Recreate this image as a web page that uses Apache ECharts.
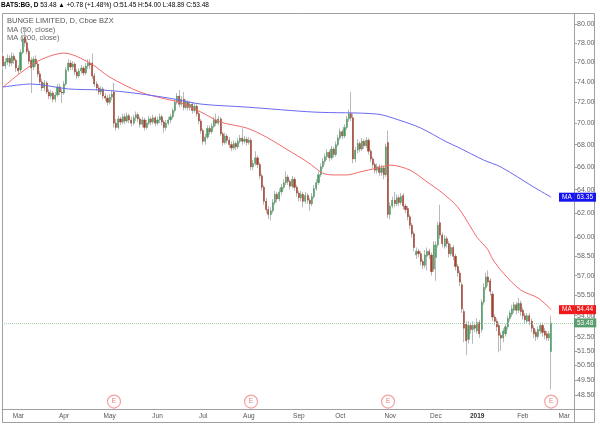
<!DOCTYPE html>
<html>
<head>
<meta charset="utf-8">
<script src="https://cdn.jsdelivr.net/npm/echarts@6/dist/echarts.min.js"></script>
<style>
html, body { margin: 0; padding: 0; background: #fff; }
#chart { width: 600px; height: 425px; }
</style>
</head>
<body>
<div id="chart"></div>
<script>
// trading calendar (weekdays minus NYSE holidays)
const firstDay = '2018-02-20';
const lastDay = '2019-03-07';
const holidays = ['2018-03-30', '2018-05-28', '2018-07-04', '2018-09-03', '2018-11-22',
  '2018-12-05', '2018-12-25', '2019-01-01', '2019-01-21', '2019-02-18'];

// daily candles, [open, close, low, high]
const feb18 = [[76.6,75.6,75.2,77.0],[75.6,76.0,75.3,76.4],[76.0,76.4,75.7,76.8],[76.4,75.9,75.5,76.7],
  [75.9,76.6,75.6,77.0],[76.6,76.2,75.8,76.9],[76.2,75.4,75.0,76.4]];
const mar18 = [[75.4,75.1,74.8,75.7],[75.2,77.0,75.0,77.3],[77.0,78.4,76.8,78.8],[78.6,78.0,77.6,79.6],
  [78.0,77.1,76.8,78.4],[77.1,76.1,75.8,77.4],[76.2,75.4,72.9,76.5],[75.5,76.3,75.2,76.6],
  [76.3,75.8,75.5,76.7],[75.8,74.8,74.5,76.0],[74.8,74.0,73.7,75.1],[74.0,73.4,73.1,74.3],
  [73.4,73.9,73.1,74.2],[73.9,73.0,72.8,74.1],[73.0,72.6,72.3,73.3],[72.6,72.9,72.3,73.2],
  [72.9,72.3,72.0,73.1],[72.3,72.7,72.0,73.0],[72.7,73.5,72.5,73.8],[73.5,73.0,72.7,73.8],
  [73.0,72.9,71.9,73.3]];
const apr18 = [[72.9,73.8,72.7,74.1],[73.8,75.2,73.6,75.5],[75.2,75.9,75.0,76.3],[75.9,75.5,75.2,76.2],
  [75.5,75.8,75.2,76.1],[75.8,75.0,74.7,76.0],[75.0,74.6,74.3,75.3],[74.6,75.1,74.4,75.4],
  [75.1,75.4,74.8,75.7],[75.4,74.9,74.6,75.6],[74.9,75.6,74.7,75.9],[75.6,75.9,75.3,76.3],
  [75.9,75.7,75.3,76.3],[75.9,74.6,74.3,76.9],[74.6,73.8,73.5,74.9],[73.8,73.4,73.1,74.1],
  [73.4,73.0,72.7,73.7],[73.0,73.3,72.7,73.6],[73.3,72.6,72.3,73.5],[72.6,72.4,72.1,72.9],
  [72.4,72.0,71.7,72.7]];
const may18 = [[72.0,72.5,71.8,72.8],[72.5,72.8,72.2,73.2],[73.0,70.0,69.6,73.9],[70.0,69.6,69.3,70.4],
  [69.6,70.4,69.4,70.7],[70.4,70.1,69.8,70.6],[70.1,70.6,69.9,70.9],[70.6,70.2,69.9,70.9],
  [70.2,70.7,70.0,71.0],[70.7,70.3,70.0,70.9],[70.3,70.0,69.7,70.6],[70.0,70.5,69.8,70.8],
  [70.5,70.8,70.2,71.1],[70.8,70.4,70.1,71.0],[70.4,69.9,69.6,70.6],[69.9,70.3,69.6,70.6],
  [70.3,69.6,69.3,70.5],[69.6,70.0,69.4,70.3],[70.0,70.4,69.8,70.7],[70.4,70.1,69.8,70.6],
  [70.1,70.5,69.9,70.8],[70.5,70.0,69.7,70.7]];
const jun18 = [[70.0,70.3,69.8,70.6],[70.3,70.6,70.0,70.9],[70.6,70.1,69.8,70.8],[70.1,69.6,69.1,70.3],
  [69.6,70.0,69.3,70.3],[70.0,70.3,69.8,70.6],[70.3,70.6,70.0,70.9],[70.6,71.2,70.4,71.4],
  [71.2,72.0,71.0,72.3],[72.0,72.6,71.8,72.9],[72.6,71.8,71.5,73.2],[71.8,72.3,71.6,72.6],
  [72.3,71.5,71.2,73.0],[71.5,72.0,71.3,72.3],[72.0,71.5,71.2,72.2],[71.5,71.8,71.2,72.1],
  [71.8,71.2,70.9,72.0],[71.2,71.6,71.0,71.9],[71.6,70.9,70.6,71.8],[70.9,70.2,69.9,71.1],
  [70.2,69.3,69.0,70.4]];
const jul18 = [[69.3,68.3,68.0,69.5],[68.3,68.7,68.0,69.0],[68.7,69.5,68.5,69.8],[69.5,69.2,68.9,69.8],
  [69.2,69.7,69.0,70.0],[69.7,70.3,69.5,70.6],[70.3,70.0,69.7,70.9],[70.0,70.4,69.8,70.7],
  [70.4,69.0,68.8,70.6],[69.0,68.2,67.9,69.2],[68.2,68.8,68.0,69.1],[68.8,68.4,68.1,69.0],
  [68.4,68.0,67.7,68.7],[68.0,67.7,67.4,68.3],[67.7,68.1,67.5,68.4],[68.1,67.8,67.5,68.3],
  [67.8,68.3,67.6,68.6],[68.3,68.6,68.1,68.9],[68.6,68.3,68.0,69.5],[68.3,68.5,68.1,68.8],
  [68.5,68.2,67.9,68.7]];
const aug18 = [[68.2,68.4,68.0,68.7],[68.4,66.0,65.7,68.6],[66.0,66.3,65.7,66.6],[66.3,66.8,66.1,67.4],
  [66.8,66.2,65.9,67.0],[66.2,65.2,64.9,66.4],[65.2,64.2,63.9,65.4],[64.2,63.0,62.7,64.4],
  [63.0,62.3,62.0,63.3],[62.3,61.9,61.5,62.6],[61.9,62.2,61.4,62.5],[62.2,62.9,62.0,63.2],
  [62.9,63.6,62.7,63.9],[63.6,63.2,62.9,63.8],[63.2,63.8,63.0,64.1],[63.8,64.2,63.5,64.5],
  [64.2,64.6,64.0,64.9],[64.6,65.1,64.4,65.6],[65.1,64.7,64.4,65.3],[64.7,64.3,64.0,64.9],
  [64.3,64.9,64.1,65.2],[64.9,64.2,63.9,65.1],[64.2,63.7,63.4,64.4]];
const sep18 = [[63.7,63.3,63.0,63.9],[63.3,63.6,63.0,63.9],[63.6,63.0,62.5,63.8],[63.0,63.5,62.8,63.8],
  [63.5,63.1,62.8,63.7],[63.1,62.8,62.2,63.3],[62.8,63.4,62.6,63.7],[63.4,64.1,63.2,64.4],
  [64.1,64.6,63.9,64.9],[64.6,65.3,64.4,65.6],[65.3,66.0,65.1,66.3],[66.0,66.5,65.8,66.8],
  [66.5,66.9,66.2,67.2],[66.9,67.3,66.6,67.6],[67.3,66.8,66.5,67.5],[66.8,67.6,66.6,67.9],
  [67.6,67.1,66.8,67.8],[67.1,68.0,66.9,68.3],[68.0,68.6,67.8,68.9]];
const oct18 = [[68.6,69.2,68.4,69.5],[69.2,68.8,68.5,69.4],[68.8,69.6,68.6,69.9],[69.6,70.4,69.4,70.7],
  [70.4,70.9,70.1,71.3],[70.9,70.5,70.2,73.0],[70.5,66.7,66.3,70.9],[66.7,67.5,66.4,67.8],
  [67.5,68.1,67.2,68.5],[68.1,67.6,67.3,68.3],[67.6,68.3,67.4,68.6],[68.3,67.9,67.6,68.5],
  [67.9,68.4,67.7,68.7],[68.4,67.4,67.1,68.6],[67.4,66.7,66.4,67.6],[66.7,66.2,65.9,66.9],
  [66.2,65.7,65.4,66.4],[65.7,66.0,65.4,66.3],[66.0,65.5,65.2,66.2],[65.5,65.9,65.2,66.2],
  [65.9,65.3,64.9,66.1],[65.3,67.8,65.1,68.1],[68.2,61.9,61.6,69.3]];
const nov18 = [[61.9,62.6,61.5,62.9],[62.6,63.1,62.4,63.4],[63.1,62.8,62.5,63.8],[62.8,63.3,62.6,63.6],
  [63.3,62.9,62.6,63.5],[62.9,63.4,62.7,63.7],[63.5,62.6,62.3,63.7],[62.6,62.3,62.0,62.8],
  [62.4,61.7,61.4,62.6],[61.7,61.0,60.7,61.9],[61.0,60.3,60.0,61.2],[60.3,59.2,58.9,60.5],
  [58.6,58.9,58.3,59.2],[58.9,58.7,58.4,59.1],[58.7,58.1,57.8,58.9],[58.1,57.8,57.5,58.3],
  [57.8,58.6,57.6,59.0],[58.5,58.9,57.4,59.2],[58.9,58.6,58.3,59.1],[58.6,57.3,57.0,58.8],
  [57.5,59.4,57.3,59.7]];
const dec18 = [[58.4,59.4,56.6,59.7],[59.4,61.0,59.2,61.3],[61.2,60.2,59.9,62.7],[60.2,59.5,59.2,60.4],
  [59.3,59.9,59.1,60.2],[59.9,59.5,59.2,60.1],[59.5,58.7,58.4,59.7],[58.7,59.2,58.5,59.5],
  [59.2,58.5,58.2,59.4],[58.5,57.7,57.4,58.7],[57.7,57.2,56.9,57.9],[57.2,56.5,56.2,57.4],
  [56.3,54.5,54.2,56.5],[54.3,53.1,52.1,54.5],[53.4,52.2,51.2,53.6],[52.3,53.3,52.0,53.6],
  [53.3,53.0,52.7,53.5],[53.0,53.3,52.0,53.6],[53.3,53.1,52.8,53.5]];
const jan19 = [[52.9,53.5,52.7,53.8],[53.5,52.7,52.4,53.7],[53.0,55.0,52.8,55.2],[55.0,56.1,54.8,56.4],
  [56.1,56.9,55.9,57.2],[56.9,56.5,56.2,57.4],[56.6,55.8,55.5,56.8],[55.6,53.9,53.6,55.8],
  [53.9,53.6,53.3,54.1],[53.6,53.2,52.9,53.8],[53.3,52.6,51.4,53.5],[52.6,52.4,51.5,52.8],
  [52.4,52.9,52.1,53.1],[52.7,53.2,52.5,53.4],[53.2,53.8,53.0,54.0],[53.8,54.2,53.6,54.4],
  [54.1,54.5,53.9,54.8],[54.4,54.8,54.2,55.0],[54.8,54.4,54.1,55.0],[54.4,54.9,54.2,55.3],
  [54.9,54.3,54.0,55.1]];
const feb19 = [[54.4,54.0,53.7,54.6],[54.0,53.7,53.4,54.2],[53.6,54.0,53.4,54.2],[54.0,53.6,53.3,54.2],
  [53.6,53.1,52.8,53.8],[53.1,52.7,52.4,53.3],[52.8,52.5,52.2,53.0],[52.5,53.0,52.3,53.2],
  [52.9,53.3,52.7,53.5],[53.3,52.8,52.5,53.5],[52.9,52.6,52.3,53.1],[52.7,52.4,52.2,52.9],
  [52.4,52.7,52.2,52.9],[51.45,53.48,48.89,54.00]];

// moving averages, [day index, value]
const ma50Pts = [[0,73.49],[8,74.9],[17,76.21],[28,76.93],[40,75.9],[49,74.48],[63,72.99],[75,72.3],
  [81,72.0],[91,71.05],[100,70.1],[112,69.54],[121,68.7],[131,67.5],[140,66.42],[147,65.44],
  [152,65.28],[158,65.28],[164,65.54],[172,65.89],[178,66.15],[187,65.71],[195,64.66],[202,63.71],
  [209,62.52],[215,60.85],[218,60.0],[223,59.0],[225,58.3],[230,57.19],[238,55.9],[246,55.3],[252,54.44]];
const ma200Pts = [[0,73.49],[13,73.79],[30,73.3],[46,73.19],[60,72.9],[76,72.41],[91,71.82],
  [112,71.53],[143,71.05],[172,70.86],[182,70.29],[192,69.54],[204,68.24],[209,67.78],[221,66.6],
  [229,65.97],[244,64.22],[252,63.35]];

const earnDates = ['2018-05-03', '2018-08-02', '2018-10-31', '2019-02-21'];
const yTicks = [48.5, 49.5, 50.5, 51.5, 52.5, 54, 55.5, 57, 58.5, 60, 62, 64, 66, 68, 70, 72, 74, 76, 78, 80];
const monthNames = ['Jan', 'Feb', 'Mar', 'Apr', 'May', 'Jun', 'Jul', 'Aug', 'Sep', 'Oct', 'Nov', 'Dec'];
const lastPrice = 53.48;

const days = [];
for (let t = Date.parse(firstDay); t <= Date.parse(lastDay); t += 86400000) {
  const d = new Date(t);
  const s = d.toISOString().slice(0, 10);
  if (d.getUTCDay() !== 0 && d.getUTCDay() !== 6 && holidays.indexOf(s) < 0) days.push(s);
}
const candles = [].concat(feb18, mar18, apr18, may18, jun18, jul18, aug18, sep18, oct18, nov18, dec18, jan19, feb19);
const bodies = candles.map(c => [c[0], c[1], Math.min(c[0], c[1]), Math.max(c[0], c[1])]);
const isMonthStart = i => i > 0 && days[i].slice(0, 7) !== days[i - 1].slice(0, 7);
const ma50Last = ma50Pts[ma50Pts.length - 1][1];
const ma200Last = ma200Pts[ma200Pts.length - 1][1];

const font = 'Liberation Sans';
const axisGray = '#a0a0a0';

function maTag(color, value) {
  return {
    show: true, position: 'end', distance: -15,
    formatter: '{t|MA}{v|' + value.toFixed(2) + '}',
    rich: {
      t: { backgroundColor: color, color: '#fff', fontSize: 6.5, fontFamily: font, padding: [1, 3, 1, 3] },
      v: { backgroundColor: color, color: '#fff', fontSize: 6.5, fontFamily: font, padding: [1, 3, 1, 2] }
    }
  };
}

const chart = echarts.init(document.getElementById('chart'));
chart.setOption({
  animation: false,
  backgroundColor: '#fff',
  textStyle: { fontFamily: font },
  grid: { left: 2, right: 26, top: 14, bottom: 16 },
  xAxis: {
    type: 'category',
    data: days,
    boundaryGap: true,
    axisLine: { lineStyle: { color: axisGray } },
    axisTick: { interval: isMonthStart, alignWithLabel: true, length: 3, lineStyle: { color: axisGray } },
    axisLabel: {
      interval: isMonthStart,
      margin: 4,
      fontSize: 6.5,
      color: '#555',
      formatter: function (v) {
        const m = +v.slice(5, 7);
        return m === 1 ? '{y|' + v.slice(0, 4) + '}' : monthNames[m - 1];
      },
      rich: { y: { fontSize: 6.5, fontWeight: 'bold', color: '#333' } }
    },
    splitLine: { show: false }
  },
  yAxis: {
    type: 'log',
    position: 'right',
    min: 47.62,
    max: 81.09,
    axisLine: { show: true, lineStyle: { color: axisGray } },
    axisTick: { show: true, length: 3, customValues: yTicks, lineStyle: { color: axisGray } },
    axisLabel: {
      customValues: yTicks,
      margin: 3,
      fontSize: 7,
      color: '#666',
      formatter: v => (+v).toFixed(2)
    },
    splitLine: { show: false }
  },
  series: [
    {
      // wicks
      type: 'candlestick',
      data: candles,
      barWidth: 1,
      itemStyle: { color: 'transparent', color0: 'transparent', borderColor: '#b9b9b9', borderColor0: '#b9b9b9', borderWidth: 1 },
      silent: true
    },
    {
      // bodies
      type: 'candlestick',
      data: bodies,
      barWidth: '75%',
      itemStyle: { color: '#4a9860', color0: '#a0402f', borderColor: '#4a9860', borderColor0: '#a0402f', borderWidth: 0.5 },
      markLine: {
        silent: true,
        symbol: 'none',
        data: [{ yAxis: lastPrice }],
        lineStyle: { color: '#9ccfaa', type: 'dotted', width: 1 },
        label: {
          position: 'end', distance: 0,
          formatter: lastPrice.toFixed(2),
          backgroundColor: '#5a9e70', color: '#fff', fontSize: 6.5, fontFamily: font,
          padding: [1, 3, 1, 3]
        }
      }
    },
    {
      name: 'MA (50, close)',
      type: 'line',
      data: ma50Pts.map(p => [days[p[0]], p[1]]),
      showSymbol: false,
      smooth: 0.3,
      lineStyle: { color: '#f26a6a', width: 1 },
      markLine: { silent: true, symbol: 'none', data: [{ yAxis: ma50Last }], lineStyle: { color: 'rgba(0,0,0,0)', width: 0 }, label: maTag('#f01818', ma50Last) }
    },
    {
      name: 'MA (200, close)',
      type: 'line',
      data: ma200Pts.map(p => [days[p[0]], p[1]]),
      showSymbol: false,
      smooth: 0.3,
      lineStyle: { color: '#6a6af2', width: 1 },
      markLine: { silent: true, symbol: 'none', data: [{ yAxis: ma200Last }], lineStyle: { color: 'rgba(0,0,0,0)', width: 0 }, label: maTag('#1414f0', ma200Last) }
    },
    {
      // earnings markers
      type: 'scatter',
      data: earnDates.map(d => [d, 48.1]),
      symbol: 'circle',
      symbolSize: 13,
      z: 5,
      itemStyle: { color: '#fff', borderColor: '#f08a8a', borderWidth: 1.2 },
      label: { show: true, position: 'inside', formatter: 'E', color: '#e05858', fontSize: 6.5, fontFamily: font }
    }
  ],
  graphic: [
    { type: 'rect', silent: true, shape: { x: 2.5, y: 13.5, width: 592, height: 409 }, style: { fill: 'none', stroke: axisGray, lineWidth: 1 } },
    { type: 'line', silent: true, shape: { x1: 574.5, y1: 13.5, x2: 574.5, y2: 422.5 }, style: { stroke: axisGray, lineWidth: 1 } },
    { type: 'line', silent: true, shape: { x1: 2.5, y1: 409.5, x2: 594.5, y2: 409.5 }, style: { stroke: axisGray, lineWidth: 1 } },
    {
      type: 'text', left: 1, top: 2, silent: true,
      style: {
        text: '{b|BATS:BG, D} {k|53.48} {g|\u25B2 +0.78 (+1.48%)} {k|O:}{g|51.45} {k|H:}{g|54.00} {k|L:}{g|48.89} {k|C:}{g|53.48}',
        fontFamily: font, fontSize: 6.5,
        rich: {
          b: { fontWeight: 'bold', color: '#333', fontSize: 6.5, fontFamily: font },
          k: { color: '#333', fontSize: 6.5, fontFamily: font },
          g: { color: '#3d9a5c', fontSize: 6.5, fontFamily: font }
        }
      }
    },
    { type: 'text', left: 7, top: 17, silent: true, style: { text: 'BUNGE LIMITED, D, Cboe BZX', fill: '#555', fontSize: 7.5, fontFamily: font } },
    { type: 'text', left: 7, top: 26, silent: true, style: { text: 'MA (50, close)', fill: '#666', fontSize: 7.5, fontFamily: font } },
    { type: 'text', left: 7, top: 34, silent: true, style: { text: 'MA (200, close)', fill: '#666', fontSize: 7.5, fontFamily: font } }
  ]
});
</script>
</body>
</html>
